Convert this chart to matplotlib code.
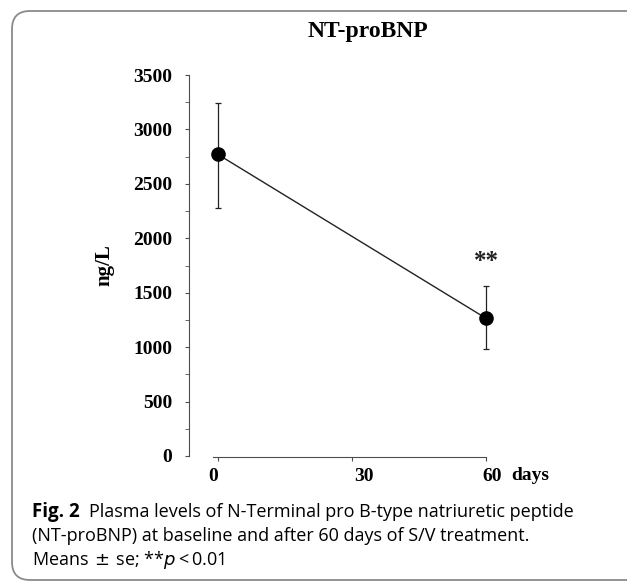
import matplotlib
matplotlib.use("Agg")
from matplotlib import pyplot as plt
from matplotlib.patches import FancyBboxPatch
from matplotlib.transforms import IdentityTransform, ScaledTranslation

# Data
days = [0, 60]
means = [2770, 1265]
err_low = [495, 280]
err_high = [470, 295]
y_ticks = [0, 500, 1000, 1500, 2000, 2500, 3000, 3500]
x_ticks = [0, 30, 60]
sig_label = "**"
sig_level = 1790

W, H = 627, 582
SERIF = ["Liberation Serif", "DejaVu Serif"]
CAPTION_FONT = ["Open Sans", "DejaVu Sans"]
AXIS_COLOR = "#4d4d4d"
TICK_FS = 14


def px_x(x):
    return x / W


def px_y(y):
    return 1 - y / H


fig = plt.figure(figsize=(W / 100, H / 100), dpi=100)

# Rounded frame around figure + caption (pixel coordinates, origin bottom-left)
frame = FancyBboxPatch(
    (12, H - 580),
    680,
    580 - 11,
    boxstyle="round,pad=0,rounding_size=18",
    transform=IdentityTransform(),
    facecolor="none",
    edgecolor="#8a8a8a",
    linewidth=1.3,
    clip_on=False,
)
fig.patches.append(frame)

# Axes placement in pixels
ax_left, ax_right, ax_top, ax_bottom = 189, 560, 60, 470
ax = fig.add_axes(
    [px_x(ax_left), px_y(ax_bottom), (ax_right - ax_left) / W, (ax_bottom - ax_top) / H]
)

# data->pixel scales: x=0 at 218px, x=60 at 486px; y=0 at 456px, y=3500 at 75px
sx = (486 - 218) / 60
sy = (456 - 75) / 3500
ax.set_xlim((ax_left - 218) / sx, (ax_right - 218) / sx)
ax.set_ylim(-(ax_bottom - 456) / sy, (456 - ax_top) / sy)

ax.errorbar(
    days,
    means,
    yerr=[err_low, err_high],
    fmt="-o",
    color="#222222",
    markerfacecolor="black",
    markeredgecolor="black",
    markersize=9.5,
    linewidth=1.0,
    elinewidth=0.9,
    capsize=2.3,
    capthick=0.9,
    zorder=3,
)

ax.text(days[1], sig_level, sig_label, ha="center", va="center", fontsize=18,
        fontweight="bold", family=SERIF, color="#222222")

for side in ["top", "right"]:
    ax.spines[side].set_visible(False)
ax.spines["left"].set_bounds(0, 3500)
ax.spines["left"].set_color(AXIS_COLOR)
ax.spines["bottom"].set_position(("data", -10))
ax.spines["bottom"].set_bounds(-1.2, 60)
ax.spines["bottom"].set_color(AXIS_COLOR)

ax.set_yticks(y_ticks)
ax.set_yticklabels([str(v) for v in y_ticks], fontweight="bold", family=SERIF,
                   fontsize=TICK_FS)
ax.set_yticks(range(250, 3500, 500), minor=True)
ax.set_xticks(x_ticks)
ax.set_xticklabels([str(v) for v in x_ticks], fontweight="bold", family=SERIF,
                   fontsize=TICK_FS)
ax.tick_params(axis="y", which="major", length=3, color=AXIS_COLOR, pad=9)
ax.tick_params(axis="y", which="minor", length=3, color=AXIS_COLOR)
ax.tick_params(axis="x", length=3, color=AXIS_COLOR, pad=5)

# the original x tick labels sit slightly off their ticks
for lbl, dx in zip(ax.get_xticklabels(), [-5, 12, 6]):
    lbl.set_transform(lbl.get_transform() + ScaledTranslation(dx / 100, 0, fig.dpi_scale_trans))

ax.text((530 - 218) / sx, -(476 - 456) / sy, "days", ha="center", va="center",
        fontsize=TICK_FS, fontweight="bold", family=SERIF)

ax.set_ylabel("ng/L", fontweight="bold", family=SERIF, fontsize=15)
ax.yaxis.set_label_coords((114 - ax_left) / (ax_right - ax_left),
                          (ax_bottom - 265) / (ax_bottom - ax_top))

fig.text(px_x(368), px_y(31), "NT-proBNP", ha="center", va="center",
         fontsize=17, fontweight="bold", family=SERIF)

# Caption
cap_fs = 13
fig.text(px_x(32), px_y(512), "Fig. 2", ha="left", va="center", fontsize=cap_fs + 0.5,
         fontweight="bold", family=CAPTION_FONT)
fig.text(px_x(89), px_y(512), "Plasma levels of N-Terminal pro B-type natriuretic peptide",
         ha="left", va="center", fontsize=cap_fs, family=CAPTION_FONT)
fig.text(px_x(32), px_y(536), "(NT-proBNP) at baseline and after 60 days of S/V treatment.",
         ha="left", va="center", fontsize=cap_fs, family=CAPTION_FONT)
fig.text(px_x(32), px_y(560), r"Means$\,\pm\,$se; **$p\,$<$\,$0.01",
         ha="left", va="center", fontsize=cap_fs, family=CAPTION_FONT)

fig.savefig("out.png", dpi=100)
